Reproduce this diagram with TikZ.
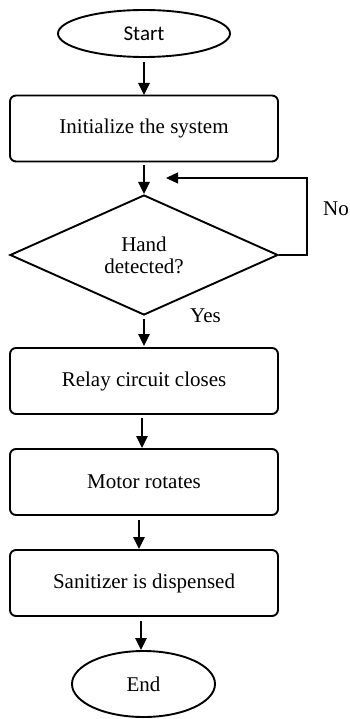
\documentclass[tikz,border=0pt]{standalone}
\usepackage{fontspec}
\setmainfont{Liberation Serif}
\newfontfamily\carlito{Carlito}
\usetikzlibrary{arrows.meta,shapes.geometric}
\begin{document}
\begin{tikzpicture}[x=1pt,y=-1pt,
  txt/.style={font=\fontsize{21}{22}\selectfont},
  term/.style={draw,line width=1.9pt,ellipse,inner sep=0pt,txt},
  procbox/.style={draw,line width=1.9pt,rounded corners=6pt,minimum width=268pt,minimum height=66pt,txt},
  decision/.style={draw,line width=1.9pt,diamond,minimum width=268pt,minimum height=120pt,inner sep=0pt,align=center,txt},
  flow/.style={line width=2.6pt,-{Triangle[width=11pt,length=12pt]}},
  loop/.style={line width=1.3pt,-{Triangle[width=11pt,length=12pt]}}]
\useasboundingbox (0,0) rectangle (349,719);
% terminals
\node[term,minimum width=172pt,minimum height=47pt,font=\carlito\fontsize{21}{22}\selectfont] (start) at (144,33.5) {Start};
\node[term,minimum width=143pt,minimum height=66pt] (end) at (143.5,684) {End};
% process steps
\node[procbox] (init) at (144,128.5) {Initialize the system};
\node[decision] (hand) at (144,255) {Hand\\detected?};
\node[procbox] (relay) at (144,381) {Relay circuit closes};
\node[procbox] (motor) at (144,482) {Motor rotates};
\node[procbox] (sanit) at (144,583) {Sanitizer is dispensed};
% connectors
\coordinate (fb) at (166,178);
\draw[flow] (144,62) -- (144,95);
\draw[flow] (144,165) -- (144,194);
\draw[flow] (144,319) -- (144,346);
\draw[flow] (142,418) -- (142,448);
\draw[flow] (139,520) -- (139,549);
\draw[flow] (141,621) -- (141,650);
\draw[loop] (hand.east) -| (307,178) -- (fb);
% labels
\node[txt,anchor=base west,inner sep=0pt] (no) at (323,215) {No};
\node[txt,anchor=base west,inner sep=0pt] (yes) at (190,322) {Yes};
\end{tikzpicture}
\end{document}
